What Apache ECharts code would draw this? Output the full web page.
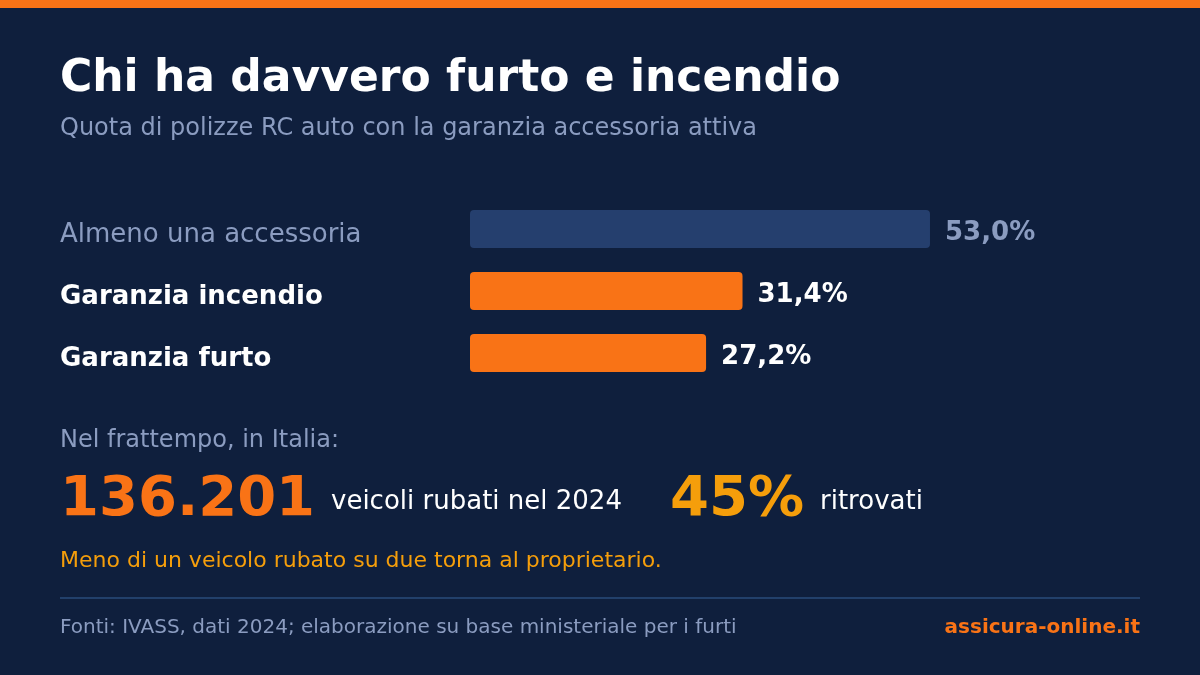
<!DOCTYPE html>
<html>
<head>
<meta charset="utf-8">
<title>Chi ha davvero furto e incendio</title>
<script src="https://cdn.jsdelivr.net/npm/echarts@6/dist/echarts.min.js"></script>
<style>
  html, body { margin: 0; padding: 0; background: #0f1f3d; }
  #chart { width: 1200px; height: 675px; }
</style>
</head>
<body>
<div id="chart"></div>
<script>
// dati
var categories = ['Almeno una accessoria', 'Garanzia incendio', 'Garanzia furto'];
var values = [53.0, 31.4, 27.2];
var stolenVehicles = '136.201';
var recoveredShare = '45%';

var FONT = 'DejaVu Sans';
var BG = '#0f1f3d';
var ORANGE = '#f97316';
var AMBER = '#f59e0b';
var MUTED = '#8b9cc0';
var NAVY_BAR = '#253f6e';

function fmt(v) {
  return v.toFixed(1).replace('.', ',') + '%';
}

// la prima barra è il totale, le altre sono le singole garanzie
var barData = values.map(function (v, i) {
  var first = i === 0;
  return {
    value: v,
    itemStyle: { color: first ? NAVY_BAR : ORANGE },
    label: { color: first ? MUTED : '#ffffff' }
  };
});

function txt(x, y, text, size, color, weight, align) {
  return {
    type: 'text',
    x: x,
    y: y,
    style: {
      text: text,
      fontFamily: FONT,
      fontSize: size,
      fontWeight: weight || 'normal',
      fill: color,
      align: align || 'left',
      verticalAlign: 'middle'
    }
  };
}

var chart = echarts.init(document.getElementById('chart'));

var option = {
  backgroundColor: BG,
  animation: false,
  grid: { left: 470, top: 198, width: 520.75, height: 186 },
  xAxis: {
    type: 'value',
    min: 0,
    max: 60,
    show: false
  },
  yAxis: {
    type: 'category',
    data: categories,
    inverse: true,
    axisLine: { show: false },
    axisTick: { show: false },
    splitLine: { show: false },
    axisLabel: {
      align: 'left',
      margin: 410,
      padding: [12, 0, 0, 0],
      formatter: function (val, idx) {
        return idx === 0 ? '{tot|' + val + '}' : '{gar|' + val + '}';
      },
      rich: {
        tot: { fontFamily: FONT, fontSize: 26, color: MUTED, fontWeight: 'normal' },
        gar: { fontFamily: FONT, fontSize: 26, color: '#ffffff', fontWeight: 'bold' }
      }
    }
  },
  series: [{
    type: 'bar',
    data: barData,
    barWidth: 38,
    itemStyle: { borderRadius: 4 },
    label: {
      show: true,
      position: 'right',
      distance: 15,
      offset: [0, 4],
      fontFamily: FONT,
      fontSize: 26,
      fontWeight: 'bold',
      formatter: function (p) { return fmt(p.value); }
    }
  }],
  graphic: [
    { type: 'rect', shape: { x: 0, y: 0, width: 1200, height: 8 }, style: { fill: ORANGE } },
    txt(60, 80, 'Chi ha davvero furto e incendio', 44, '#ffffff', 'bold'),
    txt(60, 129, 'Quota di polizze RC auto con la garanzia accessoria attiva', 24, MUTED),
    txt(60, 441, 'Nel frattempo, in Italia:', 24, MUTED),
    txt(60, 500, stolenVehicles, 56, ORANGE, 'bold'),
    txt(331, 502, 'veicoli rubati nel 2024', 26, '#ffffff'),
    txt(670, 500, recoveredShare, 56, AMBER, 'bold'),
    txt(820, 502, 'ritrovati', 26, '#ffffff'),
    txt(60, 561, 'Meno di un veicolo rubato su due torna al proprietario.', 22, AMBER),
    { type: 'rect', shape: { x: 60, y: 597, width: 1080, height: 2 }, style: { fill: '#22406b' } },
    txt(60, 628, 'Fonti: IVASS, dati 2024; elaborazione su base ministeriale per i furti', 20, MUTED),
    txt(1140, 628, 'assicura-online.it', 20, ORANGE, 'bold', 'right')
  ]
};

chart.setOption(option);
</script>
</body>
</html>
